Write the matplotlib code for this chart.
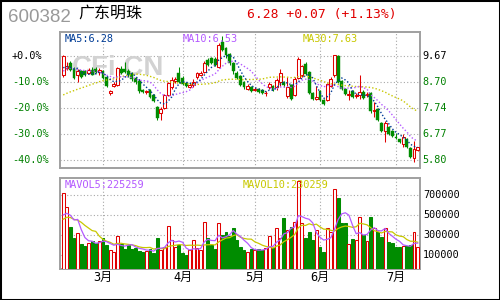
import numpy as np
import pandas as pd
import matplotlib
matplotlib.use("Agg")
import matplotlib.pyplot as plt
from matplotlib.patches import Rectangle
from matplotlib.transforms import blended_transform_factory

# ---------------- data ----------------
stock_code = "600382"
stock_name = "广东明珠"
quote_text = "6.28 +0.07 (+1.13%)"
ma_labels = ["MA5:6.28", "MA10:6.53", "MA30:7.63"]
vol_labels = ["MAVOL5:225259", "MAVOL10:230259"]

# closes before the visible window (needed for the moving averages)
pre_close = [7.45, 7.50, 7.48, 7.55, 7.60, 7.58, 7.62, 7.65, 7.70, 7.68,
             7.72, 7.80, 7.85, 7.90, 7.95, 8.00, 8.05, 8.10, 8.15, 8.25,
             8.50, 8.80, 9.10, 9.30, 9.20, 9.15, 9.25, 9.15, 8.95]
pre_volume_k = [380, 420, 450, 400, 435, 501, 486, 505, 296]

opens = [8.95, 9.22, 9.40, 9.20, 8.98, 9.12, 9.10, 9.05, 9.14, 9.20,
         9.08, 9.10, 8.88, 8.28, 8.55, 8.60, 9.18, 9.20, 9.10, 9.00,
         8.85, 8.75, 8.40, 8.32, 8.40, 8.22, 7.76, 7.56, 7.74, 8.22,
         8.53, 8.75, 9.02, 8.85, 8.68, 8.52, 8.58, 8.88, 8.95, 9.09,
         9.52, 9.58, 9.55, 9.27, 10.20, 9.95, 9.75, 9.40, 9.05, 8.92,
         8.70, 8.45, 8.52, 8.42, 8.45, 8.40, 8.28, 8.50, 8.55, 8.50,
         8.72, 8.70, 8.20, 8.58, 8.22, 8.85, 8.95, 9.38, 9.07, 8.28,
         8.06, 8.38, 8.02, 8.02, 8.55, 8.95, 9.67, 8.73, 8.43, 8.22,
         8.36, 8.20, 8.23, 8.33, 8.22, 8.31, 7.63, 7.69, 7.19, 6.87,
         7.03, 6.87, 6.66, 6.57, 6.41, 6.59, 6.25, 5.88, 6.16]
highs = [9.72, 9.45, 9.50, 9.25, 9.18, 9.15, 9.15, 9.22, 9.25, 9.26,
         9.22, 9.15, 8.92, 8.42, 8.70, 9.26, 9.28, 9.45, 9.20, 9.08,
         8.90, 8.80, 8.45, 8.42, 8.45, 8.25, 7.80, 7.78, 8.25, 8.72,
         8.88, 8.90, 9.25, 8.92, 8.72, 8.65, 8.80, 9.08, 9.12, 9.50,
         9.60, 9.62, 9.62, 10.15, 10.40, 10.00, 9.80, 9.45, 9.10, 8.98,
         8.75, 8.62, 8.56, 8.50, 8.48, 8.44, 8.36, 8.70, 8.60, 8.85,
         9.20, 8.75, 8.90, 8.62, 8.88, 9.62, 9.35, 9.45, 9.10, 8.32,
         8.55, 8.42, 8.06, 8.68, 8.90, 9.72, 9.70, 8.78, 8.48, 8.39,
         8.40, 8.30, 8.95, 8.40, 8.33, 8.33, 7.96, 7.72, 7.22, 7.24,
         7.06, 6.90, 6.80, 6.60, 6.78, 6.62, 6.28, 6.50, 6.30]
lows = [8.90, 9.15, 9.10, 8.80, 8.72, 8.85, 8.92, 9.00, 8.95, 9.02,
        8.98, 8.82, 8.50, 8.22, 8.52, 8.55, 9.00, 9.02, 8.90, 8.75,
        8.62, 8.30, 8.28, 8.26, 8.12, 7.95, 7.28, 7.30, 7.70, 8.18,
        8.45, 8.68, 8.65, 8.58, 8.50, 8.48, 8.52, 8.82, 8.92, 9.05,
        9.30, 9.38, 9.28, 9.22, 9.85, 9.60, 9.35, 9.00, 8.80, 8.55,
        8.45, 8.40, 8.32, 8.36, 8.30, 8.24, 8.20, 8.46, 8.36, 8.42,
        8.55, 8.52, 8.12, 8.02, 8.18, 8.80, 8.90, 8.95, 8.25, 8.05,
        8.02, 7.98, 7.85, 7.98, 8.50, 8.90, 8.65, 8.40, 8.22, 8.02,
        8.10, 8.12, 8.08, 8.08, 8.15, 7.55, 7.40, 7.25, 6.85, 6.47,
        6.72, 6.65, 6.58, 6.44, 6.29, 6.25, 5.88, 5.72, 6.12]
closes = [9.67, 9.30, 9.15, 8.85, 9.10, 8.88, 8.98, 9.14, 8.98, 9.08,
          9.16, 8.85, 8.55, 8.38, 8.62, 9.22, 9.05, 9.08, 8.95, 8.80,
          8.72, 8.35, 8.33, 8.35, 8.16, 8.00, 7.36, 7.70, 8.22, 8.67,
          8.78, 8.82, 8.70, 8.62, 8.55, 8.60, 8.72, 9.02, 9.05, 9.42,
          9.35, 9.40, 9.35, 10.08, 9.90, 9.70, 9.40, 9.10, 8.85, 8.60,
          8.50, 8.56, 8.36, 8.44, 8.34, 8.28, 8.30, 8.64, 8.40, 8.78,
          9.05, 8.58, 8.52, 8.08, 8.80, 9.55, 9.30, 9.01, 8.31, 8.08,
          8.14, 8.02, 7.90, 8.64, 8.80, 9.69, 8.70, 8.43, 8.27, 8.24,
          8.14, 8.22, 8.33, 8.11, 8.24, 7.61, 7.65, 7.28, 6.87, 7.19,
          6.78, 6.69, 6.62, 6.47, 6.66, 6.28, 5.91, 6.22, 6.28]
volume_k = [727, 586, 386, 270, 326, 213, 193, 226, 246, 220,
            246, 270, 200, 153, 136, 293, 213, 163, 200, 167,
            177, 140, 133, 147, 160, 126, 270, 153, 180, 393,
            253, 186, 200, 120, 103, 153, 253, 177, 153, 436,
            276, 200, 166, 426, 303, 336, 293, 376, 253, 180,
            153, 136, 160, 153, 160, 153, 170, 293, 170, 370,
            270, 470, 353, 386, 436, 840, 420, 270, 336, 253,
            353, 186, 136, 370, 336, 765, 675, 425, 425, 215,
            260, 253, 480, 303, 248, 480, 370, 336, 286, 370,
            236, 226, 186, 180, 193, 193, 200, 336, 186]

base_price = 9.67
pct_levels = [0, -10, -20, -30, -40]
vol_ticks = [100000, 300000, 500000, 700000]
month_pos = [11, 33, 53, 71, 92]
month_labels = ["3月", "4月", "5月", "6月", "7月"]

# ---------------- style ----------------
RED = "#e00000"
GREEN = "#008c00"
C_MA5 = "#003c96"
C_MA10 = "#b45aff"
C_MA30 = "#c8c800"
FRAME = "#a0a0a0"
GRID = "#a8a8a8"
MONO = "DejaVu Sans Mono"

W, H = 500, 300
fig = plt.figure(figsize=(5, 3), dpi=100)
fig.patch.set_facecolor("white")


def fx(px):
    return px / W


def fy(py):
    return 1 - py / H


ax1 = fig.add_axes([fx(60), fy(168), fx(420) - fx(60), fy(32) - fy(168)])
ax2 = fig.add_axes([fx(60), fy(269.3), fx(420) - fx(60), fy(178) - fy(269.3)])

closes_a = np.array(closes)
n = len(closes_a)
xi = np.arange(n)

# pixel geometry: candle spacing and scale
step_px, first_px = 3.617, 63.2
xlim = (-(first_px - 60) / step_px, (420 - first_px) / step_px)
pct_per_px = 10 / 26.0
ymax = base_price * (1 + (24 * pct_per_px) / 100)
ymin = base_price * (1 + (-40 - 8 * pct_per_px) / 100)

for ax in (ax1, ax2):
    ax.set_xlim(*xlim)
    ax.set_facecolor("white")
    for s in ax.spines.values():
        s.set_color(FRAME)
        s.set_linewidth(1.4)
    ax.tick_params(length=0, labelleft=False, labelbottom=False)
    ax.set_xticks(month_pos)
    ax.grid(True, color=GRID, linestyle=(0, (1, 2)), linewidth=0.8, zorder=0)
    ax.set_axisbelow(True)

ax1.set_ylim(ymin, ymax)
ax1.set_yticks([base_price * (1 + p / 100) for p in pct_levels])

# watermark
ax1.text(fx(72), fy(75), "CFi.CN", transform=fig.transFigure,
         fontsize=20, fontweight="bold", family="Liberation Sans",
         color="#d2d2d2", va="baseline", ha="left", zorder=1)

# candles
bw = 0.8
up = closes_a >= np.array(opens)
for i in range(n):
    o, h, l, c = opens[i], highs[i], lows[i], closes[i]
    col = RED if up[i] else GREEN
    ax1.vlines(i, l, h, color=col, linewidth=0.75, zorder=3)
    bottom = min(o, c)
    height = max(abs(c - o), 0.012)
    if up[i]:
        ax1.add_patch(Rectangle((i - bw / 2, bottom), bw, height,
                                facecolor="white", edgecolor=col,
                                linewidth=0.75, zorder=4))
    else:
        ax1.add_patch(Rectangle((i - bw / 2, bottom), bw, height,
                                facecolor=col, edgecolor=col,
                                linewidth=0.3, zorder=4))

# moving averages of price
all_close = pd.Series(pre_close + closes)
npre = len(pre_close)
ma5 = all_close.rolling(5).mean().to_numpy()[npre:]
ma10 = all_close.rolling(10).mean().to_numpy()[npre:]
ma30 = all_close.rolling(30).mean().to_numpy()[npre:]
for ma, col in ((ma30, C_MA30), (ma10, C_MA10), (ma5, C_MA5)):
    ax1.plot(xi, ma, color=col, linestyle=(0, (1, 1.5)), linewidth=1.0,
             zorder=5)

# volume
vol = np.array(volume_k) * 1000
vmin, vmax = -40000, 873000
ax2.set_ylim(vmin, vmax)
ax2.set_yticks(vol_ticks)
faces = ["white" if u else GREEN for u in up]
edges = [RED if u else GREEN for u in up]
ax2.bar(xi, vol - vmin, bottom=vmin, width=bw, color=faces,
        edgecolor=edges, linewidth=0.75, zorder=3)
all_vol = pd.Series(list(np.array(pre_volume_k) * 1000) + list(vol))
nvp = len(pre_volume_k)
mavol5 = all_vol.rolling(5).mean().to_numpy()[nvp:]
mavol10 = all_vol.rolling(10).mean().to_numpy()[nvp:]
ax2.plot(xi, mavol10, color=C_MA30, linewidth=0.9, zorder=5)
ax2.plot(xi, mavol5, color=C_MA10, linewidth=0.9, zorder=5)

# ---------------- texts ----------------
fig.text(fx(8), fy(22.5), stock_code, fontsize=13.5, color="#999999",
         family="Liberation Sans", va="baseline", ha="left")
fig.text(fx(78), fy(13.5), stock_name, fontsize=11.5, color="black",
         family="Noto Sans CJK SC", va="center", ha="left")
fig.text(fx(247), fy(14.5), quote_text, fontsize=9.4, color=RED,
         family=MONO, va="center", ha="left")

# MA labels
for lab, xp, col in zip(ma_labels, (65, 183, 303), (C_MA5, C_MA10, C_MA30)):
    fig.text(fx(xp), fy(39), lab, fontsize=7.4, color=col, family=MONO,
             va="center", ha="left")
for lab, xp, col in zip(vol_labels, (65, 243), (C_MA10, C_MA30)):
    fig.text(fx(xp), fy(185.5), lab, fontsize=7.4, color=col, family=MONO,
             va="center", ha="left")

# left percent labels and right price labels
tr1 = blended_transform_factory(fig.transFigure, ax1.transData)
for p in pct_levels:
    price = base_price * (1 + p / 100)
    col = "black" if p == 0 else "#008000"
    ax1.text(fx(12), price, f"{p:+.1f}%", transform=tr1, fontsize=7.3,
             family=MONO, color=col, va="center", ha="left", clip_on=False)
    ax1.text(fx(422), price, f"{price:.2f}", transform=tr1, fontsize=7.3,
             family=MONO, color=col, va="center", ha="left", clip_on=False)

tr2 = blended_transform_factory(fig.transFigure, ax2.transData)
for v in vol_ticks:
    ax2.text(fx(423), v, f"{v}", transform=tr2, fontsize=7.3, family=MONO,
             color="black", va="center", ha="left", clip_on=False)

# month labels
tr3 = blended_transform_factory(ax2.transData, fig.transFigure)
for pos, lab in zip(month_pos, month_labels):
    ax2.text(pos, fy(277), lab, transform=tr3, fontsize=8.6,
             family=[MONO, "Noto Sans CJK SC"], color="black",
             va="center", ha="center", clip_on=False)

# outer frame
fig.add_artist(Rectangle((0, 0), 1, 1, transform=fig.transFigure,
                         fill=False, edgecolor="black", linewidth=2.2))

fig.savefig("out.png", dpi=100, facecolor="white")
